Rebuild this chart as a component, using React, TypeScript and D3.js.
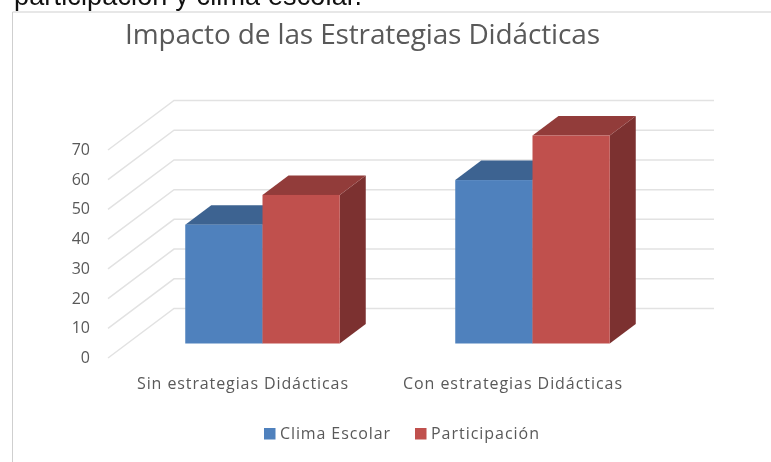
import React from "react";
import * as d3 from "d3";

const categories = ["Sin estrategias Didácticas", "Con estrategias Didácticas"];
const seriesNames = ["Clima Escolar", "Participación"];
const climaEscolar = [40, 55];
const participacion = [50, 70];
const yTicks = [0, 10, 20, 30, 40, 50, 60, 70];
const categoryLabelWidths = [211, 219];
const legendLabelWidths = [110, 108];
const fronts = ["#4f81bd", "#c0504d"];
const tops = ["#3d6391", "#923c3a"];
const sides = ["#335378", "#7c3130"];
const font = "'Open Sans', Lato, sans-serif";

export default function App() {
  const y = d3.scaleLinear().domain([0, 70]).range([343.5, 135.5]);
  const x = d3.scaleBand().domain(categories).range([127.5, 667.5]);
  const bar = d3.scaleBand().domain(seriesNames).range([0, 154.5]);
  const dx = 26, dy = -19.5;
  const values = [climaEscolar, participacion];
  const wall = (v: number) => y(v) - 35;
  const front = (v: number) => y(v) + 14.5;
  const poly = (pts: number[][]) => pts.map((p) => p.join(",")).join(" ");
  return (
    <svg width={771} height={462} style={{ position: "fixed", left: 0, top: 0, background: "#fff", filter: "blur(0.4px)" }}>
      <text x={14} y={5} fontFamily="'Liberation Sans', sans-serif" fontSize={27} textLength={348} fill="#111">participación y clima escolar.</text>
      <rect x={0} y={11} width={771} height={451} fill="#fff" />
      <path d="M771,12 H12.5 V462" fill="none" stroke="#cfcfcf" strokeWidth={1} />
      <text x={125} y={44} fontFamily={font} fontSize={28} textLength={475} fill="#595959">Impacto de las Estrategias Didácticas</text>
      {yTicks.map((t) => (
        <g key={t}>
          <path d={`M108,${front(t)} L174,${wall(t)} H714`} fill="none" stroke="#e2e2e2" strokeWidth={1.5} />
          <text x={90} y={front(t) + 5} textAnchor="end" fontFamily={font} fontSize={16} fill="#595959">{t}</text>
        </g>
      ))}
      {categories.map((c, ci) => {
        const x0 = (x(c) as number) + (x.bandwidth() - 154.5) / 2;
        return (
          <g key={c}>
            {seriesNames.map((s, si) => {
              const l = x0 + (bar(s) as number);
              const r = l + bar.bandwidth();
              const t = y(values[si][ci]);
              const b = y(0);
              return (
                <g key={s}>
                  <polygon points={poly([[r, t], [r + dx, t + dy], [r + dx, b + dy], [r, b]])} fill={sides[si]} />
                  <polygon points={poly([[l, t], [l + dx, t + dy], [r + dx, t + dy], [r, t]])} fill={tops[si]} />
                  <rect x={l} y={t} width={r - l} height={b - t} fill={fronts[si]} />
                </g>
              );
            })}
            <text x={x0 + 77.25 - 20 - categoryLabelWidths[ci] / 2} y={389} fontFamily={font} fontSize={16} textLength={categoryLabelWidths[ci]} fill="#595959">{c}</text>
          </g>
        );
      })}
      {seriesNames.map((s, i) => {
        const lx = [264, 415][i];
        return (
          <g key={s}>
            <rect x={lx} y={428} width={11.5} height={11.5} fill={fronts[i]} />
            <text x={lx + 16} y={439} fontFamily={font} fontSize={16} textLength={legendLabelWidths[i]} fill="#595959">{s}</text>
          </g>
        );
      })}
    </svg>
  );
}
